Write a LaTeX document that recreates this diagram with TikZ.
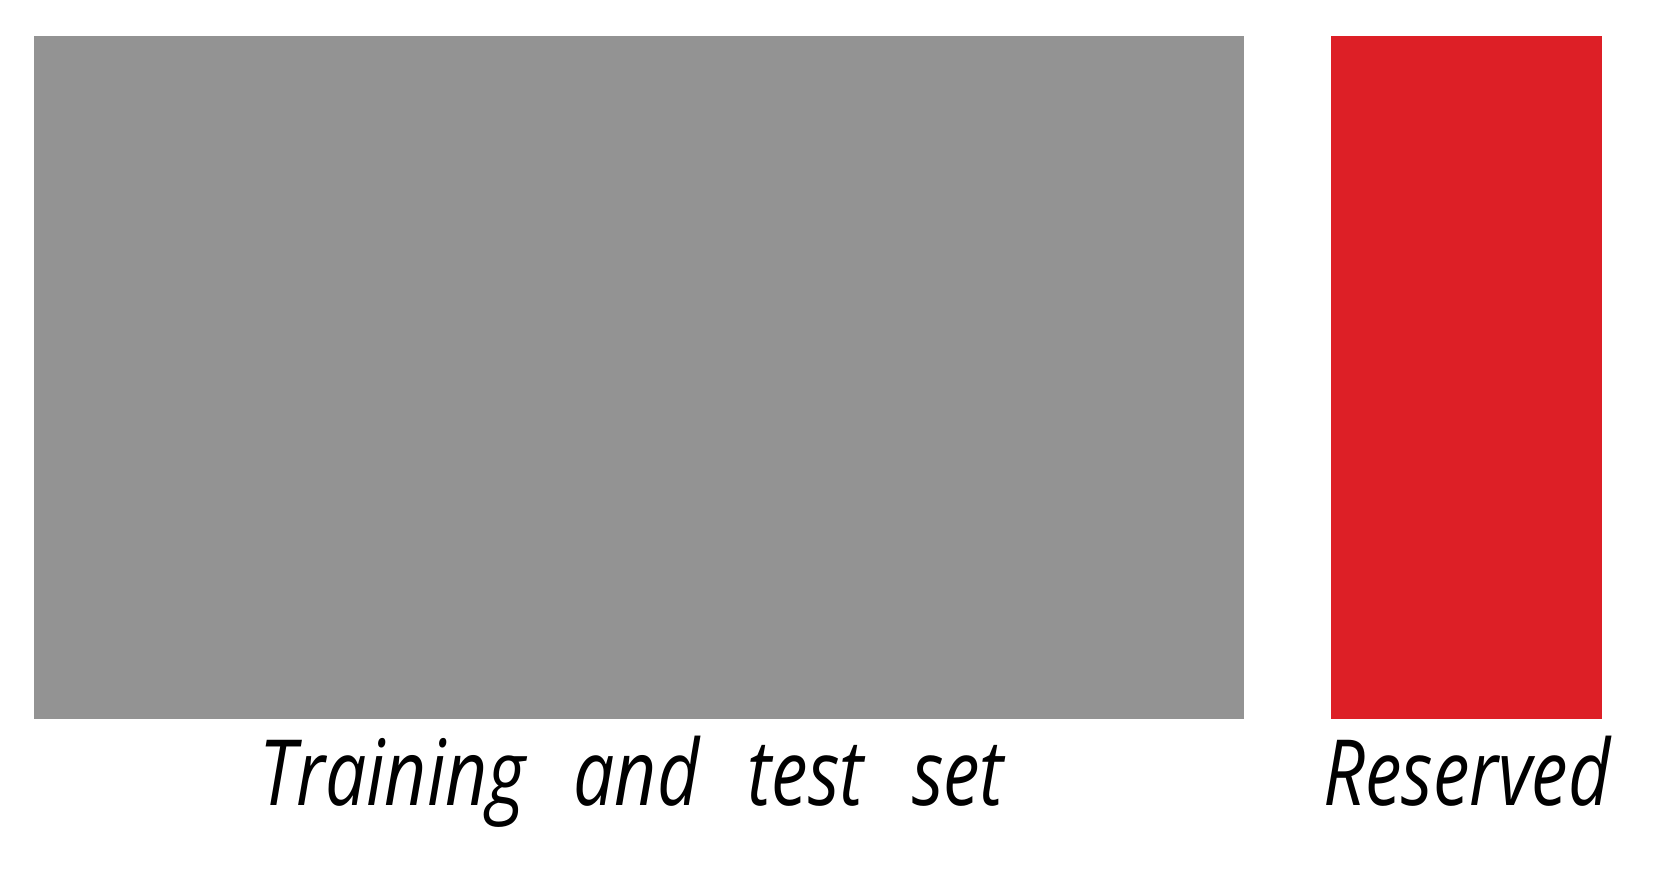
\documentclass[tikz,border=0pt]{standalone}
\usepackage{fontspec}
\setmainfont{Open Sans}
\usepackage{xcolor}
\usepackage{tikz}
\usetikzlibrary{positioning}
\definecolor{clrData}{RGB}{147,147,147}
\definecolor{clrRes}{RGB}{221,31,38}
\tikzset{
  block/.style={rectangle,draw=none,inner sep=0pt,minimum height=6.83cm},
  caption/.style={font=\fontsize{26}{30}\selectfont\itshape,inner sep=0pt,anchor=base,
    xscale=0.8,transform shape}
}
\begin{document}
\begin{tikzpicture}[x=1cm,y=1cm]
  \useasboundingbox (0,0) rectangle (16.56,8.80);
  \node[block,fill=clrData,minimum width=12.10cm] (data) at (6.39,5.025) {};
  \node[block,fill=clrRes,minimum width=2.71cm] (reserved) at (14.665,5.025) {};
  \node[caption] (lblData) at (6.32,0.74) {Training\hspace{0.4em} and\hspace{0.4em} test\hspace{0.4em} set};
  \node[caption] (lblRes) at (14.67,0.74) {Reserved};
\end{tikzpicture}
\end{document}
